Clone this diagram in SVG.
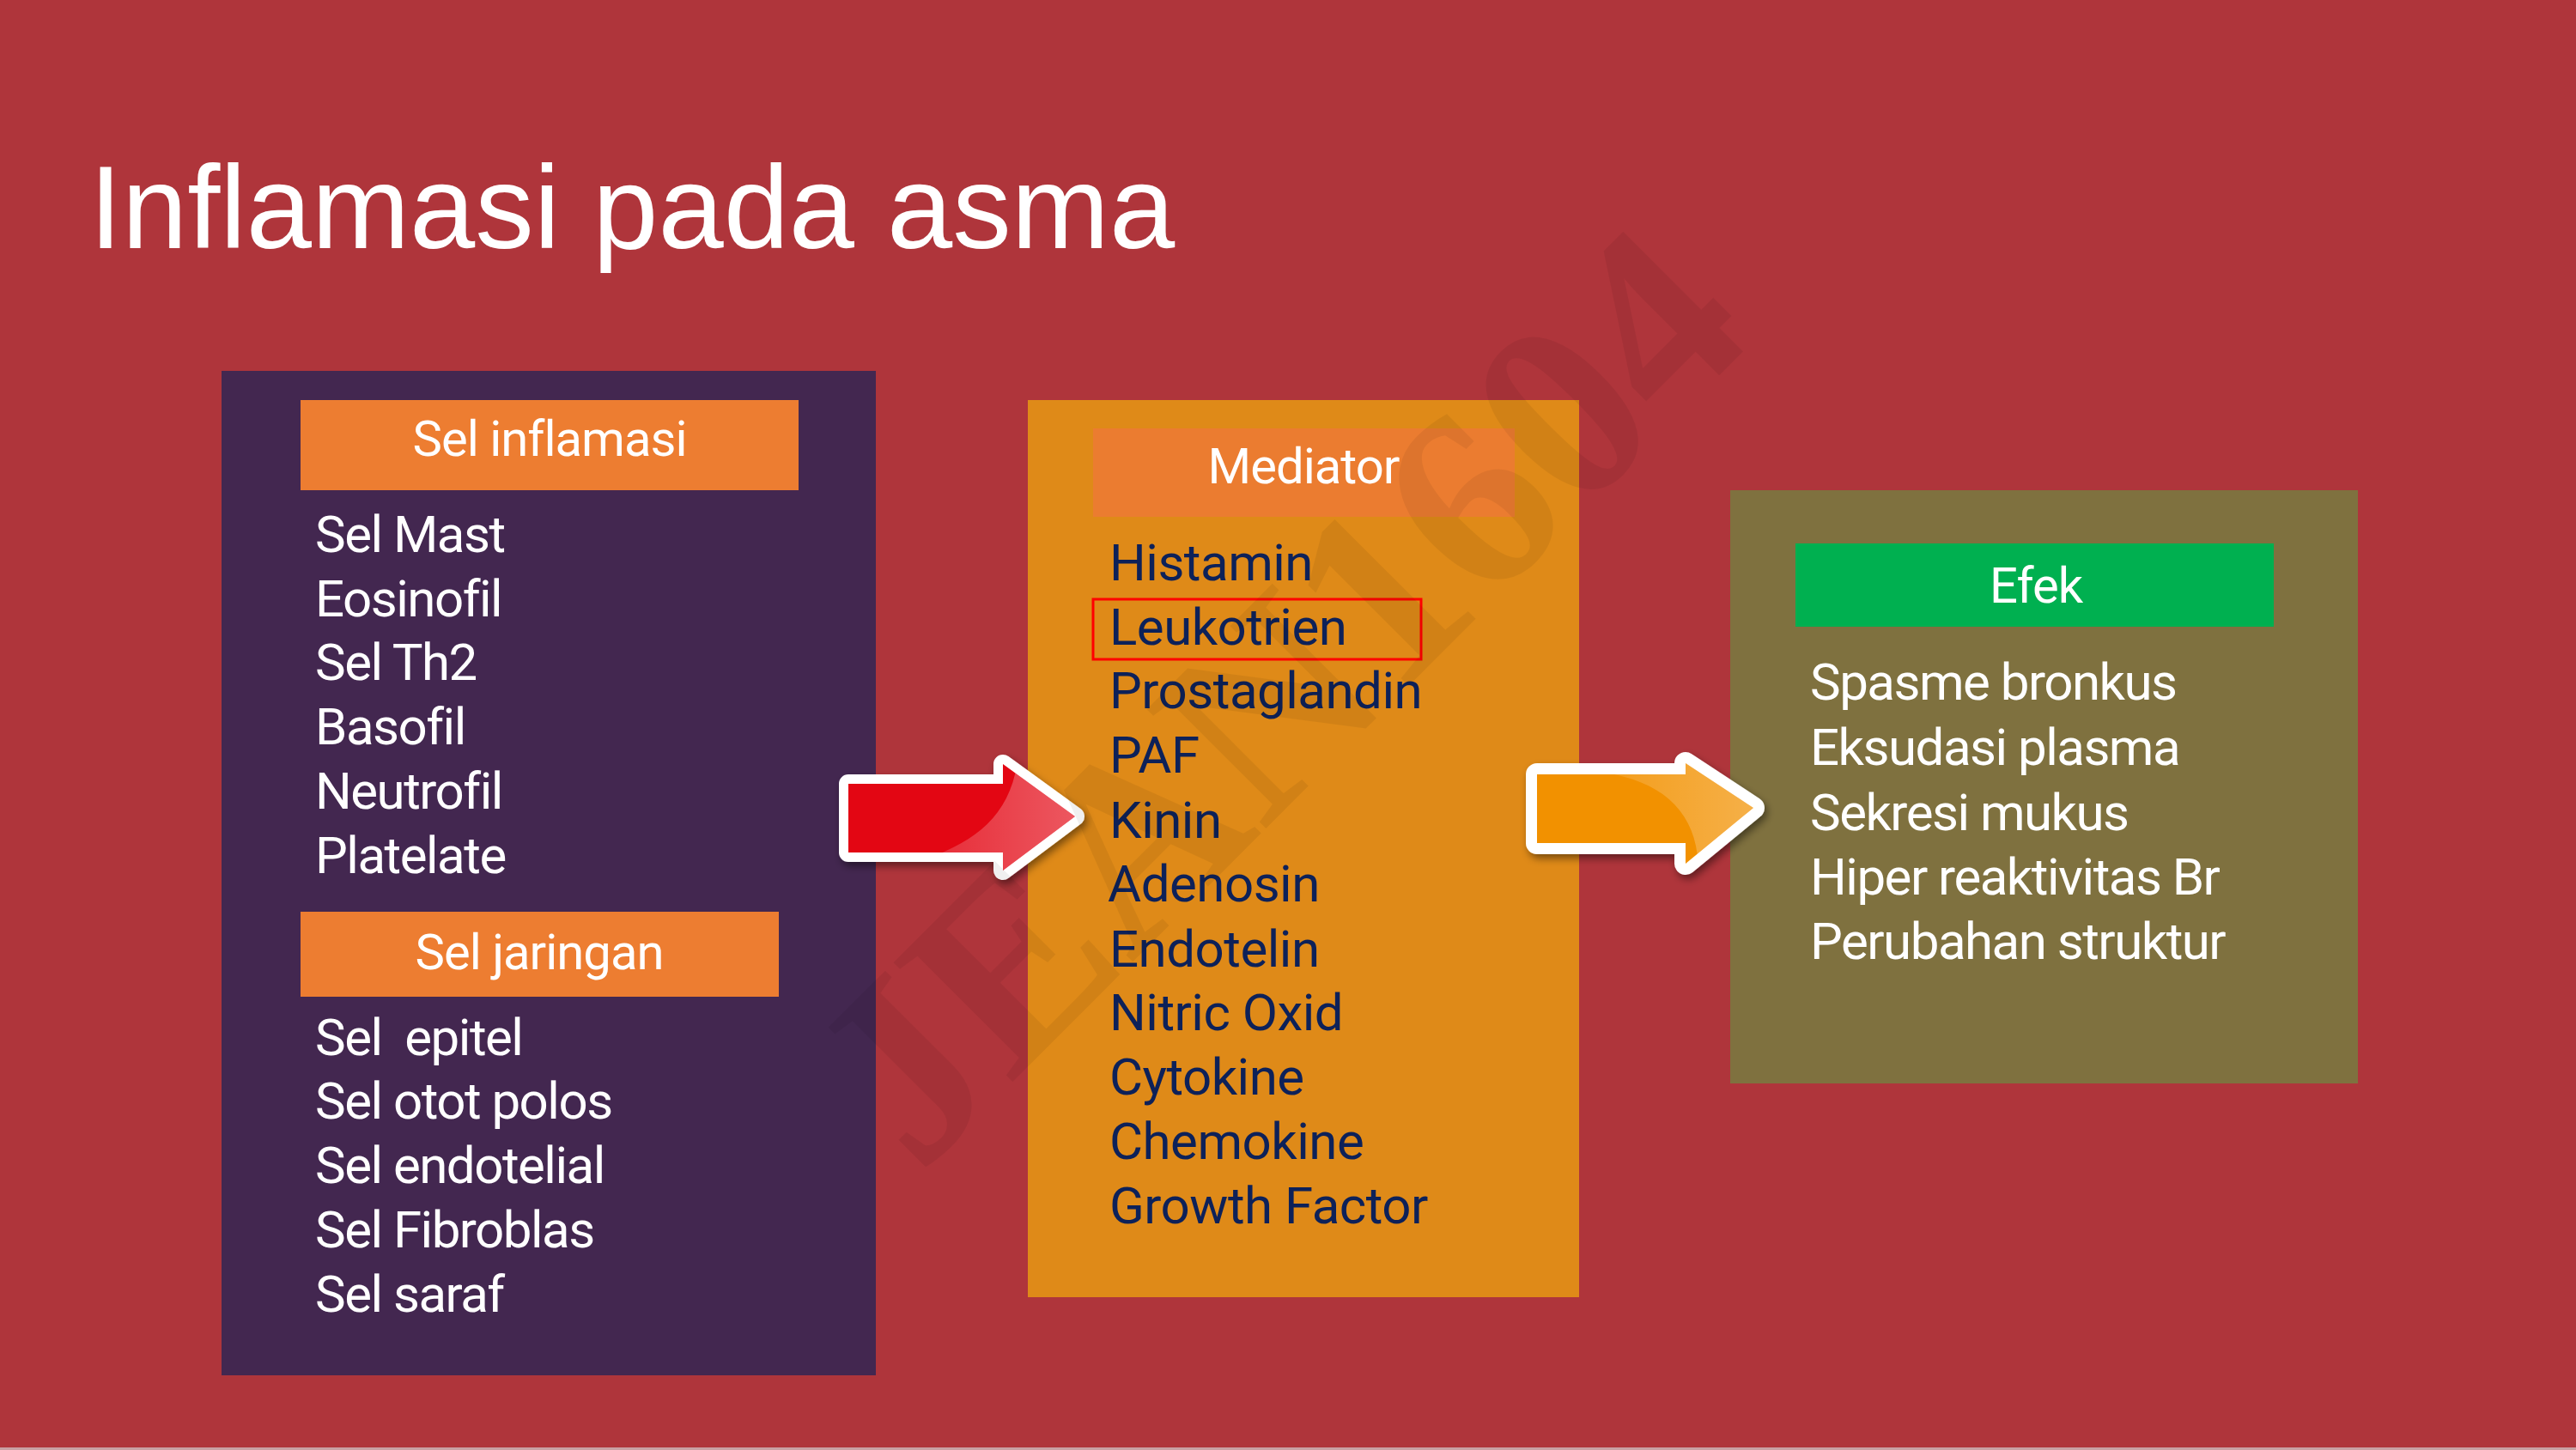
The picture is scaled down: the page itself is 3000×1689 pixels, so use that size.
<svg xmlns="http://www.w3.org/2000/svg" width="3000" height="1689" viewBox="0 0 3000 1689">
<defs>
<style>
.title{font-family:"Liberation Sans",Arial,sans-serif;font-size:137px;fill:#ffffff}
.lst{font-family:Roboto,"Noto Sans",sans-serif;font-size:60px;fill:#ffffff;letter-spacing:-1.5px}
.med{font-family:Roboto,"Noto Sans",sans-serif;font-size:60px;fill:#0d2159;letter-spacing:-0.5px}
.hdr{font-family:Roboto,"Noto Sans",sans-serif;font-size:58px;fill:#ffffff;text-anchor:middle;letter-spacing:-1px}
.wm{font-family:"Liberation Serif","Times New Roman",serif;font-weight:bold;font-size:300px;fill:#000000;fill-opacity:0.06;text-anchor:middle}
</style>
<filter id="shadow" x="-10%" y="-20%" width="130%" height="150%">
<feDropShadow dx="3" dy="5" stdDeviation="5" flood-color="#000000" flood-opacity="0.45"/>
</filter>
<linearGradient id="hlRed" x1="0" y1="0" x2="1" y2="0">
<stop offset="0" stop-color="#ffffff" stop-opacity="0.15"/>
<stop offset="1" stop-color="#ffffff" stop-opacity="0.35"/>
</linearGradient>
<linearGradient id="hlOrg" x1="0" y1="0" x2="1" y2="0">
<stop offset="0" stop-color="#ffffff" stop-opacity="0.12"/>
<stop offset="1" stop-color="#ffffff" stop-opacity="0.3"/>
</linearGradient>
<path id="redArrow" d="M988 913 L1168 913 L1168 890 L1252 951 L1168 1014 L1168 993 L988 993 Z"/>
<path id="orgArrow" d="M1790 902 L1963 902 L1963 889 L2042 941 L1963 1006 L1963 982 L1790 982 Z"/>
<clipPath id="clipRed"><use href="#redArrow"/></clipPath>
<clipPath id="clipOrg"><use href="#orgArrow"/></clipPath>
</defs>

<rect x="0" y="0" width="3000" height="1689" fill="#af353b"/>
<rect x="0" y="1686" width="3000" height="3" fill="#c9a0a3"/>

<text class="title" x="104" y="289">Inflamasi pada asma</text>

<g id="node-sel">
<rect x="258" y="432" width="762" height="1170" fill="#432750"/>
<rect x="350" y="466" width="580" height="105" fill="#ed7d31"/>
<text class="hdr" x="640" y="531">Sel inflamasi</text>
<text class="lst" x="367" y="643">Sel Mast</text>
<text class="lst" x="367" y="718">Eosinofil</text>
<text class="lst" x="367" y="792">Sel Th2</text>
<text class="lst" x="367" y="867">Basofil</text>
<text class="lst" x="367" y="942">Neutrofil</text>
<text class="lst" x="367" y="1017">Platelate</text>
<rect x="350" y="1062" width="557" height="99" fill="#ed7d31"/>
<text class="hdr" x="628" y="1129">Sel jaringan</text>
<text class="lst" x="367" y="1229" xml:space="preserve">Sel  epitel</text>
<text class="lst" x="367" y="1303">Sel otot polos</text>
<text class="lst" x="367" y="1378">Sel endotelial</text>
<text class="lst" x="367" y="1453">Sel Fibroblas</text>
<text class="lst" x="367" y="1528">Sel saraf</text>
</g>

<g id="node-mediator">
<rect x="1197" y="466" width="642" height="1045" fill="#df8a18"/>
<rect x="1273" y="499" width="491" height="103" fill="#eb7c30"/>
<text class="hdr" x="1518" y="563">Mediator</text>
<text class="med" x="1292" y="676">Histamin</text>
<rect x="1273" y="698" width="382" height="70" fill="none" stroke="#ff0000" stroke-width="3"/>
<text class="med" x="1292" y="751">Leukotrien</text>
<text class="med" x="1292" y="825">Prostaglandin</text>
<text class="med" x="1292" y="900">PAF</text>
<text class="med" x="1292" y="976">Kinin</text>
<text class="med" x="1290" y="1050">Adenosin</text>
<text class="med" x="1292" y="1126">Endotelin</text>
<text class="med" x="1292" y="1200">Nitric Oxid</text>
<text class="med" x="1292" y="1275">Cytokine</text>
<text class="med" x="1292" y="1350">Chemokine</text>
<text class="med" x="1292" y="1425">Growth Factor</text>
</g>

<g id="node-efek">
<rect x="2015" y="571" width="731" height="691" fill="#7f713f"/>
<rect x="2091" y="633" width="557" height="97" fill="#00b050"/>
<text class="hdr" x="2371" y="702">Efek</text>
<text class="lst" x="2108" y="815">Spasme bronkus</text>
<text class="lst" x="2108" y="891">Eksudasi plasma</text>
<text class="lst" x="2108" y="967">Sekresi mukus</text>
<text class="lst" x="2108" y="1042">Hiper reaktivitas Br</text>
<text class="lst" x="2108" y="1117">Perubahan struktur</text>
</g>

<g id="connectors">
<g id="arrow-sel-mediator">
<use href="#redArrow" fill="#ffffff" stroke="#ffffff" stroke-width="22" stroke-linejoin="round" filter="url(#shadow)"/>
<use href="#redArrow" fill="#e30613"/>
<path clip-path="url(#clipRed)" d="M1080 1000 C1140 978 1178 948 1186 880 L1275 880 L1275 1025 L1080 1025 Z" fill="url(#hlRed)"/>
</g>
<g id="arrow-mediator-efek">
<use href="#orgArrow" fill="#ffffff" stroke="#ffffff" stroke-width="26" stroke-linejoin="round" filter="url(#shadow)"/>
<use href="#orgArrow" fill="#f29100"/>
<path clip-path="url(#clipOrg)" d="M1880 902 C1942 915 1976 950 1978 1010 L2060 1010 L2060 875 L1880 875 Z" fill="url(#hlOrg)"/>
</g>
</g>

<g transform="translate(1488 810) rotate(-45)">
<text class="wm" x="0" y="100">JEAN1604</text>
</g>
</svg>
